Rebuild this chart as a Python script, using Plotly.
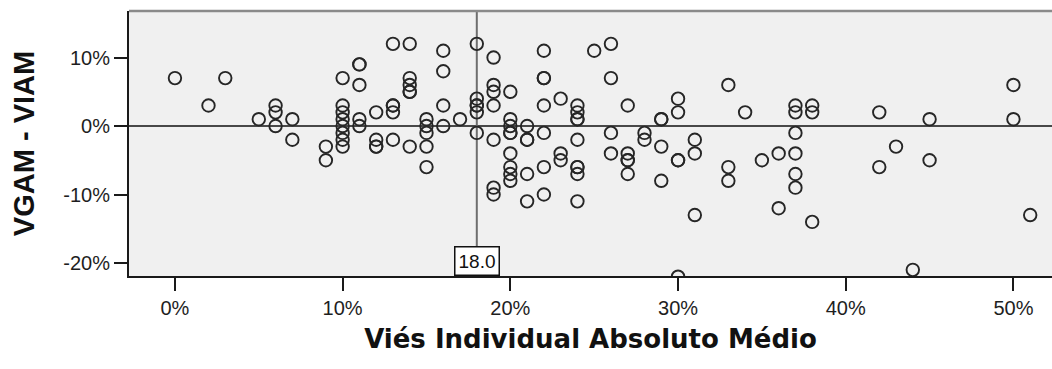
import plotly.graph_objects as go

# Viés Individual Absoluto Médio (%) and VGAM - VIAM (%)
vies_individual = (
    [0] + [2] + [3] + [5] + [6] * 3 + [7] * 2 + [9] * 2 + [10] * 8 + [11] * 5 + [12] * 4
    + [13] * 5 + [14] * 6 + [15] * 5 + [16] * 4 + [17] + [18] * 6 + [19] * 7 + [20] * 9
    + [21] * 5 + [22] * 7 + [23] * 3 + [24] * 9 + [25] + [26] * 4 + [27] * 5 + [28] * 2
    + [29] * 4 + [30] * 5 + [31] * 3 + [33] * 3 + [34] + [35] + [36] * 2 + [37] * 6
    + [38] * 3 + [42] * 2 + [43] + [44] + [45] * 2 + [50] * 2 + [51]
)
vgam_menos_viam = [
    7,
    3,
    7,
    1,
    3, 2, 0,
    1, -2,
    -3, -5,
    7, 3, 2, 1, 0, -1, -2, -3,
    9, 9, 6, 1, 0,
    2, -2, -3, -3,
    12, 3, 3, 2, -2,
    12, 7, 6, 5, 5, -3,
    1, 0, -1, -3, -6,
    11, 8, 3, 0,
    1,
    12, 4, 3, 3, 2, -1,
    10, 6, 5, 3, -2, -9, -10,
    5, 1, 0, -1, -1, -4, -6, -7, -8,
    0, -2, -2, -7, -11,
    11, 7, 7, 3, -1, -6, -10,
    4, -4, -5,
    3, 2, 1, 1, -2, -6, -6, -7, -11,
    11,
    12, 7, -1, -4,
    3, -4, -5, -5, -7,
    -1, -2,
    1, 1, -3, -8,
    4, 2, -5, -5, -22,
    -2, -4, -13,
    6, -6, -8,
    2,
    -5,
    -4, -12,
    3, 2, -1, -4, -7, -9,
    3, 2, -14,
    2, -6,
    -3,
    -21,
    1, -5,
    6, 1,
    -13,
]
x_ticks = [0, 10, 20, 30, 40, 50]
y_ticks = [-20, -10, 0, 10]
ref_x = 18.0
ref_label = "18.0"
x_title = "Viés Individual Absoluto Médio"
y_title = "VGAM - VIAM"

fig = go.Figure()
fig.add_trace(go.Scatter(
    x=vies_individual, y=vgam_menos_viam, mode="markers",
    marker=dict(symbol="circle-open", size=12.5, color="#262626", line=dict(width=1.9)),
    showlegend=False, hoverinfo="skip",
))

tick_font = dict(family="Liberation Sans, Arial", size=20, color="#1e1e1e")

fig.update_layout(
    width=1052, height=369,
    margin=dict(l=129, r=0, t=11, b=93, autoexpand=False),
    paper_bgcolor="white", plot_bgcolor="#f0f0f0",
    xaxis=dict(
        range=[-2.74, 52.3], tickvals=x_ticks, ticktext=[f"{v}%" for v in x_ticks],
        showgrid=False, zeroline=False, showline=True, linecolor="#1a1a1a", linewidth=2,
        ticks="outside", ticklen=13, tickwidth=2, tickcolor="#1a1a1a",
        tickfont=tick_font, automargin=False,
        title=dict(text=f"<b>{x_title}</b>",
                   font=dict(family="DejaVu Sans", size=26, color="#111111"),
                   standoff=12),
    ),
    yaxis=dict(
        range=[-21.9, 16.8], tickvals=y_ticks, ticktext=[f"{v}%" for v in y_ticks],
        showgrid=False, zeroline=False, showline=True, linecolor="#1a1a1a", linewidth=2,
        ticks="outside", ticklen=13, tickwidth=2, tickcolor="#1a1a1a",
        tickfont=tick_font, automargin=False,
        title=dict(text=f"<b>{y_title}</b>",
                   font=dict(family="Liberation Sans, Arial", size=29, color="#111111"),
                   standoff=20),
    ),
)

fig.add_shape(type="line", xref="paper", yref="paper", x0=0, x1=1, y0=1, y1=1,
              line=dict(color="#8a8a8a", width=2.5), layer="above")
fig.add_shape(type="line", xref="paper", yref="y", x0=0, x1=1, y0=0, y1=0,
              line=dict(color="#111111", width=1.6), layer="below")
fig.add_shape(type="line", xref="x", yref="paper", x0=ref_x, x1=ref_x, y0=0, y1=1,
              line=dict(color="#6e6e6e", width=2), layer="below")
fig.add_annotation(x=ref_x, xref="x", y=0, yref="paper", yanchor="bottom", xanchor="center",
                   text=ref_label, showarrow=False,
                   font=dict(family="Liberation Sans, Arial", size=19, color="#111111"),
                   bgcolor="white", bordercolor="#111111", borderwidth=1.5, borderpad=3)

fig.write_html("out.html", config={"displayModeBar": False},
               post_script="document.body.style.margin='0';")
